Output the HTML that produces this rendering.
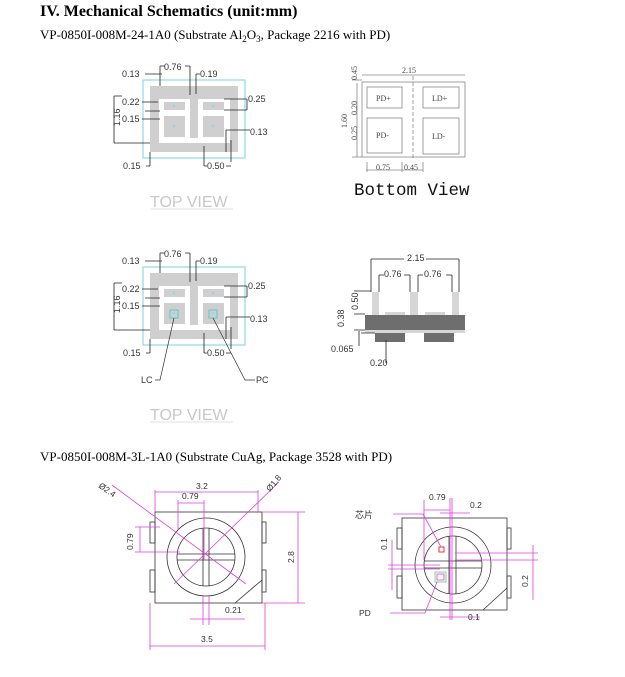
<!DOCTYPE html>
<html><head><meta charset="utf-8"><style>
html,body{margin:0;padding:0;background:#fff;width:625px;height:677px;overflow:hidden;position:relative}
svg{display:block}
.t{font-family:"Liberation Sans",sans-serif;font-size:9px;fill:#333}
.s{font-family:"Liberation Serif",serif}
.m{font-family:"Liberation Sans",sans-serif;font-size:8.5px;fill:#333}
.cj{position:absolute;left:355px;top:509px;font-family:"Liberation Sans","Noto Sans CJK SC",sans-serif;font-size:9px;line-height:12px;color:#333;white-space:nowrap;writing-mode:horizontal-tb}
</style></head><body>
<svg width="625" height="677" viewBox="0 0 625 677" xmlns="http://www.w3.org/2000/svg">
<text x="40" y="16" class="s" font-size="16" font-weight="bold" fill="#000">IV. Mechanical Schematics (unit:mm)</text>
<text x="40" y="39" class="s" font-size="13" fill="#000">VP-0850I-008M-24-1A0 (Substrate Al<tspan font-size="9" dy="3">2</tspan><tspan dy="-3">O</tspan><tspan font-size="9" dy="3">3</tspan><tspan dy="-3">, Package 2216 with PD)</tspan></text>

<defs>
<g id="tv">
<rect x="143" y="80" width="102" height="78" fill="none" stroke="#8fd8e4" stroke-width="1.2"/>
<rect x="150" y="86" width="88" height="66" fill="#cfcfcf"/>
<rect x="159" y="99" width="71" height="44" fill="#fff"/>
<rect x="190" y="86" width="8" height="52" fill="#cfcfcf"/>
<rect x="164" y="102" width="21" height="8" fill="#cfcfcf"/>
<rect x="164" y="116" width="21" height="21" fill="#cfcfcf"/>
<rect x="203" y="102" width="21" height="8" fill="#cfcfcf"/>
<rect x="203" y="116" width="21" height="21" fill="#cfcfcf"/>
<g stroke="#222" stroke-width="0.8" fill="none">
<path d="M160,66 V86 M190,66 V95 M160,66 H165 M185,66 H190"/>
<path d="M196,74 V94 M196,74 H200"/>
<path d="M145,74 H162 M142,102 H158 M142,119 H160 M145,111 H160"/>
<path d="M114,96 H122 M114,96 V143 M114,143 H150"/>
<path d="M224,99 H247 M224,110 H247 M247,99 V110"/>
<path d="M226,130 H250 M226,130 V152 M231,140 V162"/>
<path d="M150,152 V166 M146,166 H150 M204,146 V166 M204,166 H207 M226,166 H231"/>
</g>
<g fill="#8fd8e4"><circle cx="174" cy="106" r="1.3"/><circle cx="174" cy="126" r="1.3"/><circle cx="213" cy="106" r="1.3"/><circle cx="213" cy="126" r="1.3"/></g>
<g class="t">
<text x="164" y="70">0.76</text><text x="200" y="77">0.19</text>
<text x="122" y="77">0.13</text><text x="122" y="105">0.22</text><text x="122" y="122">0.15</text>
<text x="248" y="102">0.25</text><text x="250" y="135">0.13</text>
<text x="123" y="169">0.15</text><text x="207" y="169">0.50</text>
<text transform="translate(120,126) rotate(-90)">1.16</text>
</g>
</g>
</defs>

<use href="#tv"/>
<text x="150" y="207" font-family="Liberation Sans,sans-serif" font-size="16" fill="#c8c8c8">TOP VIEW</text>
<line x1="150" y1="209" x2="233" y2="209" stroke="#e0e0e0"/>

<g stroke="#888" stroke-width="0.8" fill="none">
<rect x="362" y="82" width="103" height="75"/>
<rect x="367" y="87" width="35" height="21"/><rect x="423" y="87" width="36" height="21"/>
<rect x="367" y="118" width="35" height="35"/><rect x="423" y="118" width="36" height="36"/>
<line x1="413" y1="76" x2="413" y2="160" stroke-dasharray="4,2"/>
<path d="M362,75 H465 M357,83 V157 M366,170 H423 M352,80 H362 M352,157 H362 M367,162 V172 M402,162 V172 M423,162 V172"/>
</g>
<g font-family="Liberation Serif,serif" font-size="8" fill="#444">
<text x="402" y="73">2.15</text><text x="376" y="101">PD+</text><text x="432" y="101">LD+</text>
<text x="376" y="138">PD-</text><text x="432" y="139">LD-</text>
<text x="376" y="170">0.75</text><text x="404" y="170">0.45</text>
<text transform="translate(347,128) rotate(-90)">1.60</text>
<text transform="translate(357,80) rotate(-90)">0.45</text>
<text transform="translate(357,115) rotate(-90)">0.20</text>
<text transform="translate(357,140) rotate(-90)">0.25</text>
</g>
<text x="354" y="195" font-family="Liberation Mono,monospace" font-size="17.5" fill="#111">Bottom View</text>

<use href="#tv" transform="translate(0,187)"/>
<g><rect x="170" y="310" width="8" height="8" fill="none" stroke="#5cc" /><rect x="209" y="310" width="8" height="8" fill="none" stroke="#5cc"/></g>
<g stroke="#333" stroke-width="0.7" fill="none"><path d="M174,318 L160,380 H155 M213,318 L245,380 H255"/></g>
<text x="141" y="383" class="t">LC</text><text x="256" y="383" class="t">PC</text>
<text x="150" y="420" font-family="Liberation Sans,sans-serif" font-size="16" fill="#c8c8c8">TOP VIEW</text>
<line x1="150" y1="422" x2="233" y2="422" stroke="#e0e0e0"/>

<g>
<rect x="372" y="292" width="7" height="23" fill="#d6d6d6"/><rect x="410" y="292" width="8" height="23" fill="#d6d6d6"/><rect x="452" y="292" width="7" height="23" fill="#d6d6d6"/>
<rect x="385" y="312" width="20" height="3" fill="#d6d6d6"/><rect x="425" y="312" width="20" height="3" fill="#d6d6d6"/>
<rect x="365" y="315" width="100" height="15" fill="#6e6e6e"/>
<rect x="365" y="330" width="100" height="3" fill="#d6d6d6"/>
<rect x="375" y="333" width="30" height="9" fill="#6e6e6e"/><rect x="424" y="333" width="30" height="9" fill="#6e6e6e"/>
</g>
<g stroke="#222" stroke-width="0.8" fill="none">
<path d="M371,259 V292 M459,259 V292 M371,259 H404 M426,259 H459"/>
<path d="M379,275 V292 M410,275 V292 M379,275 H384 M404,275 H410 M418,275 V292 M452,275 V292 M418,275 H423 M446,275 H452"/>
<path d="M354,291 H371 M354,314 H365 M354,330 H365 M359,331 V346 M361,333 H375 M386,340 V363"/>
</g>
<g class="t"><text x="407" y="261">2.15</text><text x="384" y="277">0.76</text><text x="424" y="277">0.76</text>
<text x="331" y="352">0.065</text><text x="370" y="366">0.20</text>
<text transform="translate(358,310) rotate(-90)">0.50</text>
<text transform="translate(344,327) rotate(-90)">0.38</text></g>

<text x="40" y="461" class="s" font-size="13" fill="#000">VP-0850I-008M-3L-1A0 (Substrate CuAg, Package 3528 with PD)</text>

<g stroke="#333" stroke-width="0.8" fill="none">
<rect x="155" y="512" width="107" height="91"/>
<rect x="150" y="522" width="5" height="21"/><rect x="150" y="570" width="5" height="22"/>
<rect x="262" y="522" width="4" height="21"/><rect x="262" y="570" width="4" height="22"/>
<circle cx="206" cy="557" r="39"/><circle cx="206" cy="557" r="29"/>
<path d="M177,554 H235 M177,560 H235 M203,528 V586 M209,528 V586"/>
<path d="M235,603 L262,580"/>
</g>
<g stroke="#e040e0" stroke-width="0.8" fill="none">
<path d="M112,485 L246,584 M174,584 L279,482"/>
<path d="M155,490 V512 M258,490 V512 M155,492 H258"/>
<path d="M178,500 V530 M204,500 V560 M178,503 H204"/>
<path d="M135,527 H160 M135,552 H180 M140,527 V552"/>
<path d="M262,512 H305 M262,603 H305 M298,512 V603"/>
<path d="M150,603 V650 M265,603 V650 M150,646 H265"/>
<path d="M203,595 V625 M209,595 V625 M190,619 H245"/>
</g>
<g class="m"><text x="196" y="489">3.2</text><text x="182" y="499">0.79</text>
<text x="225" y="613">0.21</text><text x="201" y="642">3.5</text>
<text transform="translate(133,550) rotate(-90)">0.79</text>
<text transform="translate(294,563) rotate(-90)">2.8</text>
<text transform="translate(98,487) rotate(35)">Ø2.4</text>
<text transform="translate(270,492) rotate(-50)">Ø1.8</text></g>

<g stroke="#333" stroke-width="0.8" fill="none">
<rect x="402" y="518" width="105" height="92"/>
<rect x="397" y="528" width="5" height="21"/><rect x="397" y="576" width="5" height="22"/>
<rect x="507" y="528" width="4" height="21"/><rect x="507" y="576" width="4" height="22"/>
<circle cx="453" cy="565" r="38"/><circle cx="453" cy="565" r="29"/>
<path d="M424,561 H482 M424,568 H482 M449,536 V594 M456,536 V594"/>
<path d="M483,610 L507,588"/>
</g>
<rect x="439" y="547" width="5" height="5" fill="none" stroke="#e33" stroke-width="1"/>
<rect x="435" y="572" width="11" height="10" fill="none" stroke="#6c6" stroke-width="0.8"/>
<rect x="437" y="574" width="7" height="6" fill="none" stroke="#e040e0" stroke-width="0.8"/>
<g stroke="#e040e0" stroke-width="0.8" fill="none">
<path d="M424,500 V560 M450,498 V620 M452,498 V620 M424,510 H450"/>
<path d="M440,513 H470 M393,514 H423 L441,547"/>
<path d="M388,565 H440 M388,569 H440 M392,540 V590"/>
<path d="M455,553 H538 M455,560 H538 M533,545 V600"/>
<path d="M437,582 L425,613 H390 M440,617 H480"/>
</g>
<g class="m"><text x="429" y="500">0.79</text><text x="470" y="508">0.2</text>
<text x="468" y="620">0.1</text><text x="359" y="616">PD</text>
<text transform="translate(387,550) rotate(-90)">0.1</text>
<text transform="translate(528,587) rotate(-90)">0.2</text></g>
</svg>
<div class="cj">芯片</div>
</body></html>
